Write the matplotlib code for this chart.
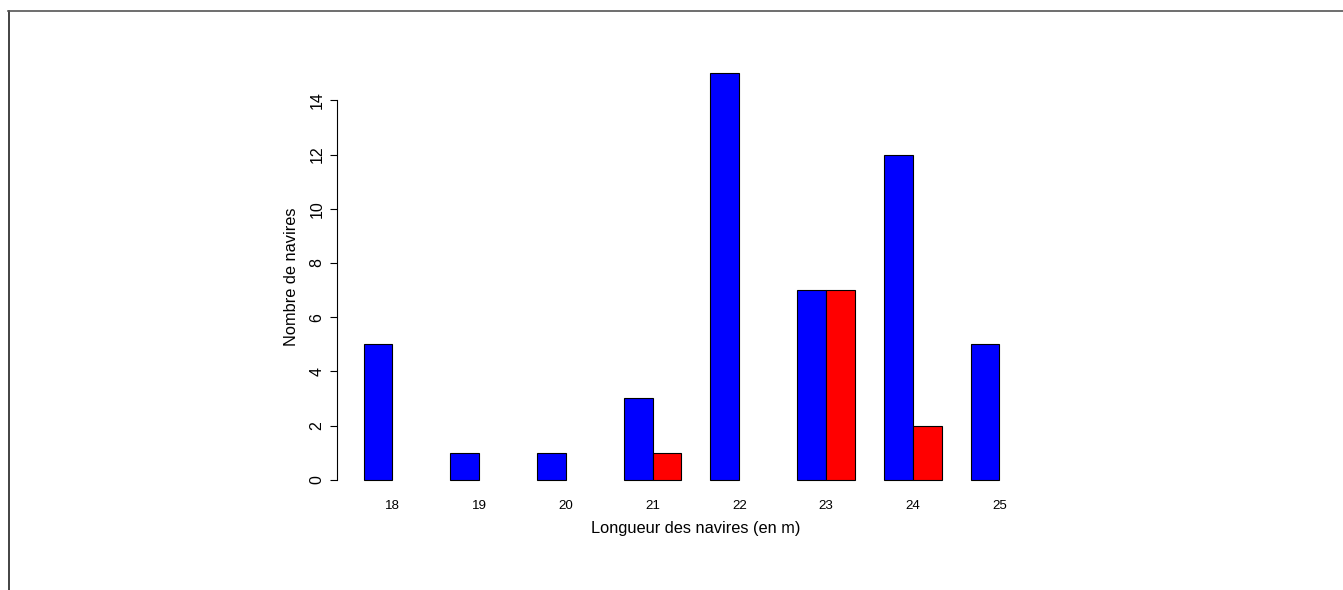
"""
Bar chart of vessel lengths (R barplot look-alike)
"""

import numpy as np
import matplotlib
matplotlib.use("Agg")
import matplotlib.pyplot as plt
from matplotlib.lines import Line2D

lengths = ["18", "19", "20", "21", "22", "23", "24", "25"]
count_blue = [5, 1, 1, 3, 15, 7, 12, 5]
count_red = [0, 0, 0, 1, 0, 7, 2, 0]

plt.rcParams["font.family"] = ["Liberation Sans", "DejaVu Sans"]

fig = plt.figure(figsize=(13.43, 5.9), dpi=100)
ax = fig.add_axes([0.2509, 0.1593, 0.5346, 0.7441])

# R style beside=TRUE positions: width 1, one unit gap between groups
idx = np.arange(len(lengths))
left_blue = 1 + 3 * idx
left_red = 2 + 3 * idx

ax.bar(left_blue, count_blue, width=1, align="edge", color="#0000ff",
       edgecolor="black", linewidth=0.8)
red = np.array(count_red)
keep = red > 0
ax.bar(left_red[keep], red[keep], width=1, align="edge", color="#ff0000",
       edgecolor="black", linewidth=0.8)

ax.set_xlim(0.08, 24.92)
ax.set_ylim(-0.6, 15.6)

for s in ["top", "right", "bottom"]:
    ax.spines[s].set_visible(False)
ax.spines["left"].set_bounds(0, 14)
ax.spines["left"].set_linewidth(0.8)

ax.set_yticks(range(0, 15, 2))
ax.set_yticklabels([str(v) for v in range(0, 15, 2)], rotation=90,
                   va="center", fontsize=11.5)
ax.tick_params(axis="y", length=5, width=0.8, pad=4)

ax.set_xticks(left_red)
ax.set_xticklabels(lengths, fontsize=9.6)
ax.tick_params(axis="x", length=0, pad=3)

ax.set_xlabel("Longueur des navires (en m)", fontsize=11.8, va="center")
ax.xaxis.set_label_coords(0.5, -0.075)
ax.set_ylabel("Nombre de navires", fontsize=11.8, va="center")
ax.yaxis.set_label_coords(-0.064, 0.5)

# frame of the cropped picture
W, H = 1343, 590
fig.add_artist(Line2D([8.5 / W, 8.5 / W], [0, 1 - 10.5 / H],
                      color="#222222", linewidth=1.2))
fig.add_artist(Line2D([8 / W, 1], [1 - 10.5 / H, 1 - 10.5 / H],
                      color="#555555", linewidth=1.2))

fig.savefig("out.png", dpi=100)
